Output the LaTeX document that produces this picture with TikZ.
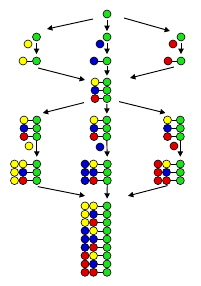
\documentclass[tikz,border=0pt]{standalone}
\usepackage{tikz}
\usetikzlibrary{arrows.meta,calc}
\usepackage{xcolor}
\definecolor{beadyellow}{HTML}{FFFF00}
\definecolor{beadblue}{HTML}{0000CC}
\definecolor{beadred}{HTML}{DD0000}
\definecolor{beadgreen}{HTML}{22DD22}
\tikzset{
  bead/.style={
    circle,
    draw=black,
    line width=0.5pt,
    inner sep=0pt,
    minimum size=0.24cm
  },
  ybead/.style={bead, fill=beadyellow},
  bbead/.style={bead, fill=beadblue},
  rbead/.style={bead, fill=beadred},
  gbead/.style={bead, fill=beadgreen},
  bond/.style={line width=0.5pt, draw=black},
  arrow/.style={
    -{Triangle[length=1.6mm,width=1.6mm]},
    line width=0.8pt,
    draw=black
  }
}

\begin{document}
\begin{tikzpicture}[x=0.03cm,y=-0.03cm]
\useasboundingbox (0,0) rectangle (200,286);
% start
\node[gbead] (top) at (107,14) {};
% first bead picked
\node[gbead] (l2g) at (36.5,37) {};
\node[ybead] (l2y) at (28,44) {};
\node[gbead] (c2g) at (107,37) {};
\node[bbead] (c2b) at (100,44) {};
\node[gbead] (r2g) at (181,37) {};
\node[rbead] (r2r) at (173,44) {};
% bonded pairs
\node[gbead] (l3g) at (36.5,61) {};
\node[ybead] (l3y) at (23,61) {};
\node[gbead] (c3g) at (107,61) {};
\node[bbead] (c3b) at (94,61) {};
\node[gbead] (r3g) at (181,61) {};
\node[rbead] (r3r) at (168,61) {};
\draw[bond] (l3y) -- (l3g);
\draw[bond] (c3b) -- (c3g);
\draw[bond] (r3r) -- (r3g);
% merged
\foreach \c [count=\i] in {ybead,bbead,rbead} {
  \node[gbead] (m\i g) at (107,73.7+8.3*\i) {};
  \node[\c] (m\i a) at (95,73.7+8.3*\i) {};
  \draw[bond] (m\i a) -- (m\i g);
}
% copies plus one more bead
\foreach \nm/\bx in {l/24, c/94, r/167.5} {
  \foreach \c [count=\i] in {ybead,bbead,rbead} {
    \node[gbead] (\nm5\i g) at (\bx+12.8,111.7+8.3*\i) {};
    \node[\c] (\nm5\i a) at (\bx,111.7+8.3*\i) {};
    \draw[bond] (\nm5\i a) -- (\nm5\i g);
  }
}
\node[ybead] (l5x) at (29,146) {};
\node[bbead] (c5x) at (100,147) {};
\node[rbead] (r5x) at (174,146) {};
% bonded triples
\foreach \nm/\bx/\fc in {l/14.5/ybead, c/85/bbead, r/158/rbead} {
  \foreach \c [count=\i] in {ybead,bbead,rbead} {
    \node[\fc] (\nm6\i a) at (\bx,155.7+8.3*\i) {};
    \node[\c] (\nm6\i b) at (\bx+8.5,155.7+8.3*\i) {};
    \node[gbead] (\nm6\i g) at (\bx+22.3,155.7+8.3*\i) {};
    \draw[bond] (\nm6\i b) -- (\nm6\i g);
  }
}
% all nine
\foreach \fc [count=\j] in {ybead,bbead,rbead} {
  \foreach \c [count=\i] in {ybead,bbead,rbead} {
    \node[\fc] (f\j\i a) at (85,172.7+24.9*\j+8.3*\i) {};
    \node[\c] (f\j\i b) at (93.5,172.7+24.9*\j+8.3*\i) {};
    \node[gbead] (f\j\i g) at (107,172.7+24.9*\j+8.3*\i) {};
    \draw[bond] (f\j\i b) -- (f\j\i g);
  }
}
% arrows
\draw[arrow] ($(top)+(-14,5)$) -- ($(l2g)+(10.5,-8)$);
\draw[arrow, shorten <=0.05cm, shorten >=0.05cm] (top) -- (c2g);
\draw[arrow] ($(top)+(17,4)$) -- ($(r2g)+(-11,-6)$);
\draw[arrow, shorten <=0.06cm, shorten >=0.08cm] (l2g) -- (l3g);
\draw[arrow, shorten <=0.06cm, shorten >=0.08cm] (c2g) -- (c3g);
\draw[arrow, shorten <=0.06cm, shorten >=0.08cm] (r2g) -- (r3g);
\draw[arrow] ($(l3g)+(1.5,7)$) -- ($(m1a)+(-10,-2)$);
\draw[arrow, shorten <=0.03cm, shorten >=0.06cm] (c3g) -- (m1g);
\draw[arrow] ($(r3g)+(-7,6)$) -- ($(m1g)+(23,-4)$);
\draw[arrow] ($(m3a)+(-11,4)$) -- ($(l51g)+(6,-7)$);
\draw[arrow, shorten <=0.03cm, shorten >=0.06cm] (m3g) -- (c51g);
\draw[arrow] ($(m3g)+(12,3)$) -- ($(r51a)+(-2,-7)$);
\draw[arrow, shorten >=0.09cm] (l53g) -- (l61g);
\draw[arrow, shorten >=0.09cm] (c53g) -- (c61g);
\draw[arrow, shorten >=0.09cm] (r53g) -- (r61g);
\draw[arrow] ($(l63g)+(1,6)$) -- ($(f11a)+(0,-10)$);
\draw[arrow, shorten >=0.09cm] (c63g) -- (f11g);
\draw[arrow] ($(r63b)+(1,5)$) -- ($(f11g)+(21,-10)$);
\end{tikzpicture}
\end{document}
